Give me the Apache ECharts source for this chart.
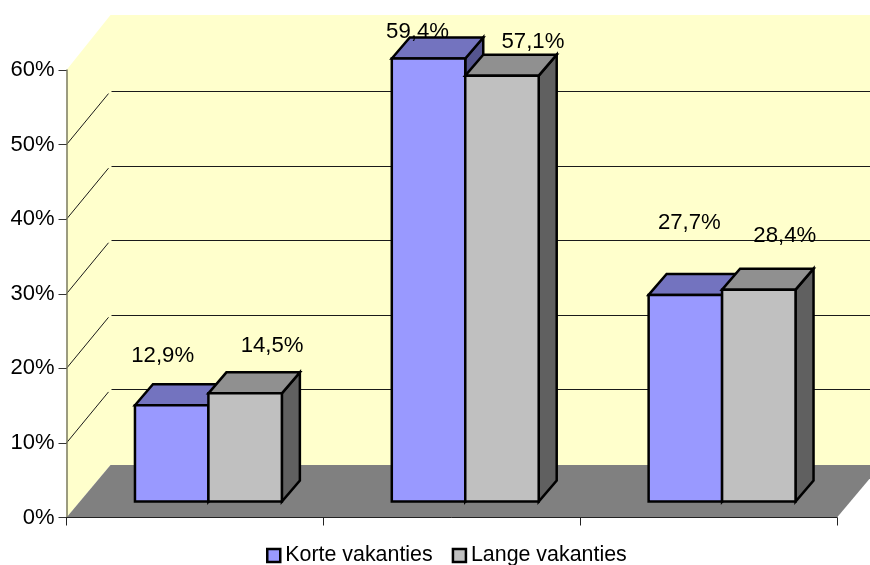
<!DOCTYPE html>
<html>
<head>
<meta charset="utf-8">
<style>
  html, body { margin: 0; padding: 0; background: #fff; }
  #chart { width: 870px; height: 565px; }
</style>
<script src="https://cdn.jsdelivr.net/npm/echarts@6/dist/echarts.min.js"></script>
</head>
<body>
<div id="chart"></div>
<script>
const categories = ["1", "2", "3"];
const korte = [12.9, 59.4, 27.7];
const lange = [14.5, 57.1, 28.4];
const korteLabels = ["12,9%", "59,4%", "27,7%"];
const langeLabels = ["14,5%", "57,1%", "28,4%"];
const yTicks = [0, 10, 20, 30, 40, 50, 60];

// hand placed label nudges, from the middle of the bar's top edge
const korteNudge = [[-9, -49], [-11, -27], [4, -72]];
const langeNudge = [[27, -47], [31, -34], [26, -54]];

const FONT = '22.2px "Liberation Sans", Arial, sans-serif';
// depth of the floor and of a bar, in pixels
const DEPTH = [44, -52.5];
const BAR_DEPTH = [18, -21];
const BAR_SHIFT = [13.5, -16];

const poly = (points, fill, stroke, lineWidth) => ({
  type: "polygon",
  shape: { points },
  style: { fill, stroke: stroke || null, lineWidth: lineWidth || 0 },
});

const line = (a, b, width) => ({
  type: "line",
  shape: { x1: a[0], y1: a[1], x2: b[0], y2: b[1] },
  style: { stroke: "#1a1a1a", lineWidth: width },
});

function renderBackdrop(params, api) {
  const o = api.coord([0, 0]);
  const left = o[0] - api.size([1, 0])[0] / 2;
  const bottom = o[1];
  const top = api.coord([0, 60])[1];
  const right = left + api.size([1, 0])[0] * 3;
  const backX = left + DEPTH[0];
  const backY = bottom + DEPTH[1];
  const children = [
    poly([[left, bottom], [left, top], [backX, top - 55], [right + 60, top - 55], [right + 60, backY], [backX, backY]], "#ffffcc"),
    poly([[left, bottom], [backX, backY], [right + DEPTH[0], backY], [right, bottom]], "#808080"),
  ];
  yTicks.slice(1, -1).forEach((t) => {
    const y = api.coord([0, t])[1];
    const backLine = Math.round(y + DEPTH[1]) - 0.5;
    children.push(line([left, y], [left + 42, y - 51], 1));
    children.push(line([left + 45, backLine], [right + 60, backLine], 1));
  });
  return { type: "group", children };
}

function barRenderer(slot, colors, labels, nudges) {
  return function (params, api) {
    const i = api.value(0);
    const band = api.size([1, 0])[0];
    const w = band * 0.286;
    const c = api.coord([i, api.value(1)]);
    const x0 = c[0] + BAR_SHIFT[0] + (slot - 1) * w;
    const x1 = x0 + w;
    const yTop = c[1] + BAR_SHIFT[1];
    const yBase = api.coord([i, 0])[1] + BAR_SHIFT[1];
    const dx = BAR_DEPTH[0];
    const dy = BAR_DEPTH[1];
    const edge = { stroke: "#000", lineWidth: 2.5 };
    return {
      type: "group",
      children: [
        poly([[x1, yTop], [x1 + dx, yTop + dy], [x1 + dx, yBase + dy], [x1, yBase]], colors.side, edge.stroke, edge.lineWidth),
        poly([[x0, yTop], [x0 + dx, yTop + dy], [x1 + dx, yTop + dy], [x1, yTop]], colors.top, edge.stroke, edge.lineWidth),
        poly([[x0, yTop], [x1, yTop], [x1, yBase], [x0, yBase]], colors.front, edge.stroke, edge.lineWidth),
        {
          type: "text",
          z2: 100,
          style: {
            text: labels[params.dataIndex],
            x: (x0 + x1) / 2 + nudges[params.dataIndex][0],
            y: yTop + nudges[params.dataIndex][1],
            font: FONT,
            fill: "#000",
            align: "center",
            verticalAlign: "middle",
          },
        },
      ],
    };
  };
}

const chart = echarts.init(document.getElementById("chart"), null, { renderer: "canvas" });

const option = {
  animation: false,
  backgroundColor: "#fff",
  grid: { left: 66.5, right: 33, top: 70, bottom: 47.5 },
  legend: {
    data: ["Korte vakanties", "Lange vakanties"],
    top: 540,
    left: 261,
    icon: "rect",
    itemWidth: 13,
    itemHeight: 13,
    itemGap: 19,
    selectedMode: false,
    itemStyle: { borderColor: "#000", borderWidth: 2.5 },
    textStyle: { fontSize: 21.4, fontFamily: "Liberation Sans", color: "#000", padding: [0, 0, 0, 0] },
  },
  xAxis: {
    type: "category",
    data: categories,
    z: 5,
    axisLine: { lineStyle: { color: "#222", width: 1 } },
    axisTick: { show: true, length: 8, lineStyle: { color: "#222" } },
    axisLabel: { show: false },
  },
  yAxis: {
    type: "value",
    min: 0,
    max: 60,
    interval: 10,
    z: 5,
    splitLine: { show: false },
    axisLine: { show: true, lineStyle: { color: "#7a7a60", width: 1.5 } },
    axisTick: { show: true, length: 8, lineStyle: { color: "#333" } },
    axisLabel: {
      formatter: "{value}%",
      fontFamily: "Liberation Sans",
      fontSize: 22,
      color: "#000",
      margin: 12,
    },
  },
  series: [
    {
      name: "backdrop",
      type: "custom",
      silent: true,
      z: 1,
      data: [[0, 0]],
      renderItem: renderBackdrop,
    },
    {
      name: "Korte vakanties",
      type: "custom",
      z: 2,
      itemStyle: { color: "#9999ff" },
      data: korte.map((v, i) => [i, v]),
      encode: { x: 0, y: 1 },
      renderItem: barRenderer(0, { front: "#9999ff", top: "#7373bf", side: "#55558f" }, korteLabels, korteNudge),
    },
    {
      name: "Lange vakanties",
      type: "custom",
      z: 3,
      itemStyle: { color: "#c0c0c0" },
      data: lange.map((v, i) => [i, v]),
      encode: { x: 0, y: 1 },
      renderItem: barRenderer(1, { front: "#c0c0c0", top: "#909090", side: "#606060" }, langeLabels, langeNudge),
    },
  ],
};

chart.setOption(option);
</script>
</body>
</html>
